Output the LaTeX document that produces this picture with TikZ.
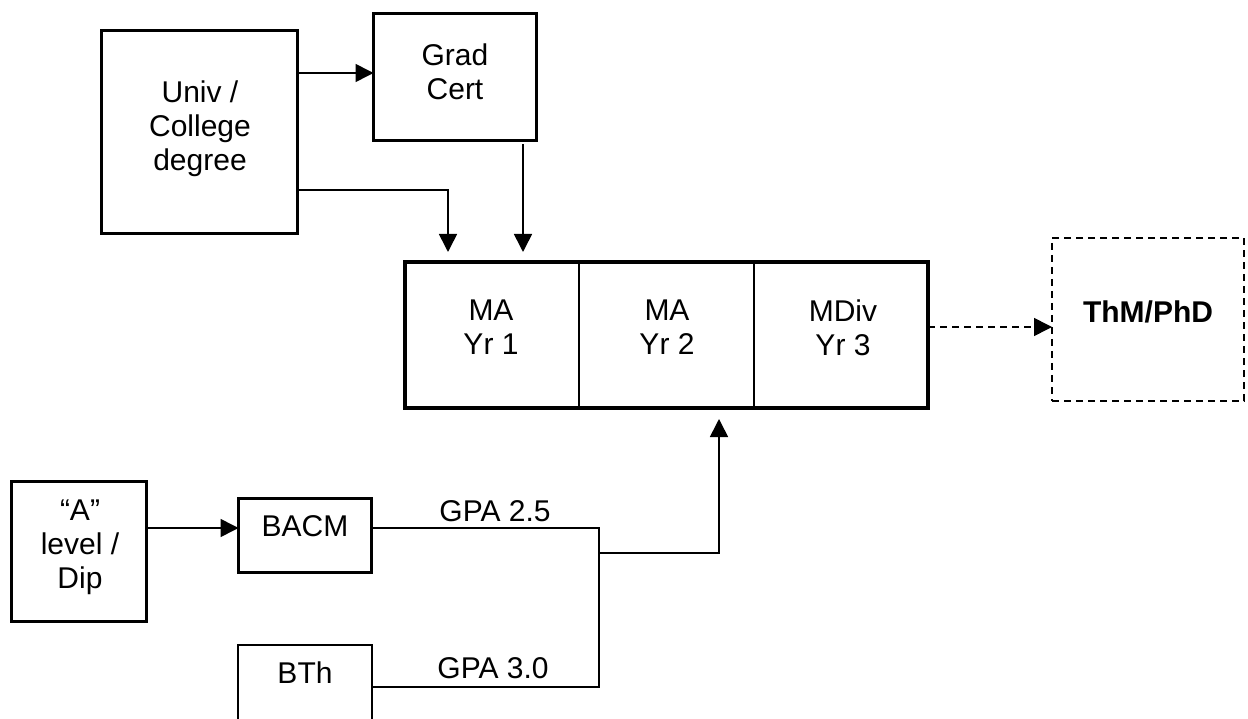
\documentclass[tikz,border=0pt]{standalone}
\usepackage{fontspec}
\setmainfont{Liberation Sans}
\usetikzlibrary{arrows.meta}

\begin{document}
\begin{tikzpicture}[x=1pt,y=-1pt]
      \tikzset{>={Triangle[length=18pt,width=18pt]}}
      \tikzset{box/.style={draw=black,line width=3pt,inner sep=0pt,outer sep=0pt},
        cell/.style={draw=black,line width=1.8pt,inner sep=0pt,outer sep=0pt,minimum width=174,minimum height=146},
        txt/.style={align=center,inner sep=0pt,font=\fontsize{30}{34}\selectfont},
        wire/.style={line width=1.6pt}}
      \useasboundingbox (0,0) rectangle (1248,719);

      \node[box,minimum width=196,minimum height=203] (univ) at (199.5,132.5) {};
      \node[box,minimum width=163,minimum height=127] (grad) at (455,77) {};
      \node[cell] (ma1) at (492,335) {};
      \node[cell] (ma2) at (666.5,335) {};
      \node[cell] (mdiv) at (841,335) {};
      \draw[line width=4.5pt] (ma1.north west) rectangle (mdiv.south east);
      \node[box,line width=2pt,dash pattern=on 7pt off 5pt,minimum width=192,minimum height=163] (thm) at (1148,319.5) {};
      \node[box,minimum width=135,minimum height=140] (alevel) at (79,551.5) {};
      \node[box,minimum width=133,minimum height=74] (bacm) at (305,535.5) {};
      \node[box,line width=1.5pt,minimum width=134,minimum height=90] (bth) at (305,690) {};

      \node[txt] (univt) at (200,128.5) {Univ /\\College\\degree};
      \node[txt] (gradt) at (455,71.5) {Grad\\Cert};
      \node[txt] (ma1t) at (491,327.5) {MA\\Yr 1};
      \node[txt] (ma2t) at (667,327.5) {MA\\Yr 2};
      \node[txt] (mdivt) at (843,327.5) {MDiv\\Yr 3};
      \node[txt] (thmt) at (1148,312) {\bfseries ThM/PhD};
      \node[txt] (alevelt) at (80,547) {“A”\\level /\\Dip};
      \node[txt] (bacmt) at (305,526) {BACM};
      \node[txt] (btht) at (305,672.5) {BTh};
      \node[txt] (gpa25) at (495,511.5) {GPA 2.5};
      \node[txt] (gpa30) at (493,668) {GPA 3.0};

      \coordinate (gin) at ([yshift=4]grad.west);
      \coordinate (ta) at ([shift={(-44,-10)}]ma1.north);
      \coordinate (tb) at ([shift={(31,-10)}]ma1.north);
      \coordinate (up) at ([shift={(52.5,11)}]ma2.south);
      \coordinate (dout) at ([yshift=8]mdiv.east);
      \coordinate (ain) at ([yshift=7.5]bacm.west);
      \coordinate (bout) at ([yshift=7.5]bacm.east);
      \coordinate (thout) at ([yshift=3]bth.east);
      \coordinate (jn) at (599,553);

      \draw[wire,->] (univ.east |- gin) -- (gin);
      \draw[wire,->] ([yshift=-57.5]univ.east) -| (ta);
      \draw[wire,->,shorten <=4pt] (grad.south -| tb) -- (tb);
      \draw[wire,dash pattern=on 7pt off 5pt,->] (dout) -- (dout -| thm.west);
      \draw[wire,->] (alevel.east |- ain) -- (ain);
      \draw[wire] (bout) -- (bout -| jn) -- (thout -| jn) -- (thout);
      \draw[wire,->] (jn) -| (up);
    \end{tikzpicture}
\end{document}
